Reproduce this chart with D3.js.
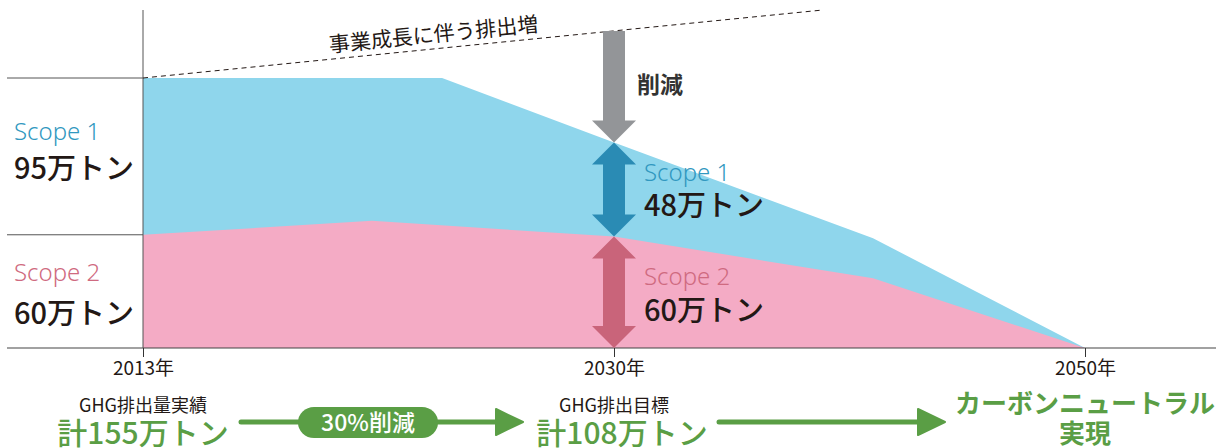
<!DOCTYPE html>
<html lang="ja">
<head>
<meta charset="UTF-8">
<title>GHG削減ロードマップ</title>
<style>
  body { margin: 0; background: #fff; }
  svg text { font-family: "Noto Sans CJK JP", "Noto Sans", sans-serif; }
</style>
</head>
<body>
<script src="https://d3js.org/d3.v7.min.js"></script>
<script>
// data (stage index: 0 = 2013, 1 = 2030, 2 = 2050)
const stages = ["2013年", "2030年", "2050年"];
const scope2Stage = [0, 0.486, 1, 1.55, 2];
const scope2Val = [65, 73, 64, 40, 0];
const totalStage = [0, 0.635, 1, 1.55, 2];
const totalVal = [155, 155, 118, 63, 0];
const trendStage = [0, 1.442];
const trendVal = [155, 194];

const scopeNames = ["Scope 1", "Scope 2"];
const baseLabels = ["95万トン", "60万トン"];
const targetLabels = ["48万トン", "60万トン"];
const stageCaps = ["GHG排出量実績", "GHG排出目標"];
const stageTotals = ["計155万トン", "計108万トン"];
const goalLines = ["カーボンニュートラル", "実現"];
const cutLabel = "削減";
const pillLabel = "30%削減";
const trendLabel = "事業成長に伴う排出増";

const W = 1219, H = 448;
const dark = "#231815", green = "#5a9e45";
const blueFill = "#8fd6ec", pinkFill = "#f4abc5";
const blueText = "#3198c0", pinkText = "#cf6a80";

const svg = d3.select("body").append("svg")
    .attr("width", W).attr("height", H);

const x = d3.scaleLinear().domain([0, 2]).range([143, 1085]);
const y = d3.scaleLinear().domain([0, 155]).range([348, 78]);

const total = totalStage.map((s, i) => ({s: s, v: totalVal[i]}));
const scope2 = scope2Stage.map((s, i) => ({s: s, v: scope2Val[i]}));

// areas
const area = d3.area().x(d => x(d.s)).y0(y(0)).y1(d => y(d.v));
svg.append("path").datum(total).attr("d", area).attr("fill", blueFill);
svg.append("path").datum(scope2).attr("d", area).attr("fill", pinkFill);

// left guide lines at 2013 levels
[totalVal[0], scope2Val[0]].forEach(v => {
    svg.append("line")
        .attr("x1", 7).attr("x2", x(0))
        .attr("y1", y(v)).attr("y2", y(v))
        .attr("stroke", "#555").attr("stroke-width", 1);
});

// baseline + vertical axis
svg.append("line")
    .attr("x1", 7).attr("x2", 1216)
    .attr("y1", y(0)).attr("y2", y(0))
    .attr("stroke", "#444").attr("stroke-width", 1.2);
svg.append("line")
    .attr("x1", x(0)).attr("x2", x(0))
    .attr("y1", 10).attr("y2", y(0))
    .attr("stroke", "#555").attr("stroke-width", 1);

const axis = svg.append("g")
    .attr("transform", "translate(0," + y(0) + ")")
    .call(d3.axisBottom(x).tickValues([0, 1, 2]).tickSize(9).tickPadding(5)
        .tickFormat(i => stages[i]));
axis.select(".domain").remove();
axis.selectAll(".tick line").attr("stroke", "#333");
axis.selectAll(".tick text")
    .attr("fill", dark).attr("font-size", 19)
    .style("font-family", '"Noto Sans CJK JP", sans-serif');

// trend (dashed)
const trend = trendStage.map((s, i) => ({s: s, v: trendVal[i]}));
svg.append("path").datum(trend)
    .attr("d", d3.line().x(d => x(d.s)).y(d => y(d.v)))
    .attr("fill", "none").attr("stroke", dark)
    .attr("stroke-width", 1).attr("stroke-dasharray", "5,4");
const trendAt = s => trendVal[0] + (trendVal[1] - trendVal[0]) * (s - trendStage[0]) / (trendStage[1] - trendStage[0]);
const ang = Math.atan2(y(trendVal[1]) - y(trendVal[0]), x(trendStage[1]) - x(trendStage[0])) * 180 / Math.PI;
svg.append("text")
    .attr("transform", "translate(" + x(0.62) + "," + y(trendAt(0.62)) + ") rotate(" + ang + ")")
    .attr("dy", -7)
    .attr("text-anchor", "middle")
    .attr("font-size", 21).attr("fill", dark)
    .text(trendLabel);

// vertical arrows at 2030
function vArrow(cx, top, bottom, headTop, headBottom, color) {
    const sw = 11, hw = 22, hl = 22;
    const t = headTop ? top + hl : top;
    const b = headBottom ? bottom - hl : bottom;
    const p = d3.path();
    if (headTop) {
        p.moveTo(cx, top); p.lineTo(cx + hw, t); p.lineTo(cx + sw, t);
    } else {
        p.moveTo(cx + sw, top);
    }
    p.lineTo(cx + sw, b);
    if (headBottom) {
        p.lineTo(cx + hw, b); p.lineTo(cx, bottom); p.lineTo(cx - hw, b);
    }
    p.lineTo(cx - sw, b);
    p.lineTo(cx - sw, t);
    if (headTop) { p.lineTo(cx - hw, t); }
    p.closePath();
    svg.append("path").attr("d", p.toString()).attr("fill", color);
}
const cx = x(1);
vArrow(cx, y(trendAt(1)), y(totalVal[2]), false, true, "#939598");
vArrow(cx, y(totalVal[2]), y(scope2Val[2]), true, true, "#2a8bb4");
vArrow(cx, y(scope2Val[2]), y(0), true, true, "#c9647a");

svg.append("text")
    .attr("x", cx + 23).attr("y", 93)
    .attr("font-size", 23).attr("font-weight", 700).attr("fill", "#333")
    .text(cutLabel);

// scope labels: left (2013) and at 2030
function scopeLabel(lx, nameY, valY, i, labels) {
    svg.append("text")
        .attr("x", lx).attr("y", nameY)
        .attr("font-size", 24).attr("font-weight", 300)
        .attr("fill", i === 0 ? blueText : pinkText)
        .style("font-family", '"Noto Sans", "Open Sans", sans-serif')
        .text(scopeNames[i]);
    svg.append("text")
        .attr("x", lx).attr("y", valY)
        .attr("font-size", 29).attr("font-weight", 500).attr("fill", dark)
        .text(labels[i]);
}
scopeLabel(14, 140, 179, 0, baseLabels);
scopeLabel(14, 281, 324, 1, baseLabels);
scopeLabel(cx + 30, 181, 216, 0, targetLabels);
scopeLabel(cx + 30, 285, 321, 1, targetLabels);

// bottom captions
[0, 1].forEach(i => {
    svg.append("text")
        .attr("x", x(i)).attr("y", 412)
        .attr("text-anchor", "middle")
        .attr("font-size", 18).attr("fill", dark)
        .text(stageCaps[i]);
    svg.append("text")
        .attr("x", x(i) + (i === 1 ? 8 : 0)).attr("y", 444)
        .attr("text-anchor", "middle")
        .attr("font-size", 30).attr("font-weight", 500).attr("fill", green)
        .text(stageTotals[i]);
});
svg.append("text")
    .attr("x", x(2)).attr("y", 413)
    .attr("text-anchor", "middle")
    .attr("font-size", 26).attr("font-weight", 700).attr("fill", green)
    .text(goalLines[0]);
svg.append("text")
    .attr("x", x(2)).attr("y", 443)
    .attr("text-anchor", "middle")
    .attr("font-size", 26).attr("font-weight", 700).attr("fill", green)
    .text(goalLines[1]);

// green flow arrows
function hArrow(x1, x2, yy) {
    svg.append("line")
        .attr("x1", x1).attr("x2", x2 - 24)
        .attr("y1", yy).attr("y2", yy)
        .attr("stroke", green).attr("stroke-width", 5).attr("stroke-linecap", "round");
    svg.append("path")
        .attr("d", "M" + (x2 - 27) + "," + (yy - 13) + "L" + x2 + "," + yy + "L" + (x2 - 27) + "," + (yy + 13) + "Z")
        .attr("fill", green).attr("stroke", green).attr("stroke-width", 2).attr("stroke-linejoin", "round");
}
const flowY = 422;
hArrow(241, 523, flowY);
hArrow(719, 945, flowY);

svg.append("rect")
    .attr("x", 298).attr("y", flowY - 15)
    .attr("width", 140).attr("height", 31)
    .attr("rx", 16).attr("fill", green);
svg.append("text")
    .attr("x", 368).attr("y", flowY + 9)
    .attr("text-anchor", "middle")
    .attr("font-size", 23).attr("font-weight", 500).attr("fill", "#fff")
    .text(pillLabel);
</script>
</body>
</html>
